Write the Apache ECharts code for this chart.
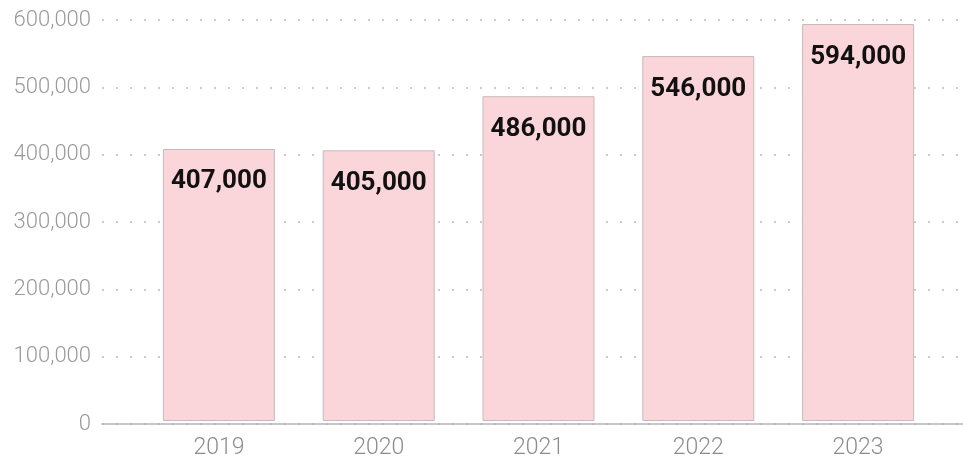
<!DOCTYPE html>
<html>
<head>
<meta charset="utf-8">
<script src="https://cdn.jsdelivr.net/npm/echarts@6/dist/echarts.min.js"></script>
<style>
  html, body { margin: 0; padding: 0; background: #fff; }
  #chart { width: 963px; height: 460px; }
</style>
</head>
<body>
<div id="chart"></div>
<script>
// Yearly totals
const years = ['2019', '2020', '2021', '2022', '2023'];
const totals = [407000, 405000, 486000, 546000, 594000];
const yMax = 600000;
const yStep = 100000;

const fmt = v => v.toLocaleString('en-US');
const chart = echarts.init(document.getElementById('chart'));

chart.setOption({
  animation: false,
  grid: [
    // bars
    { left: 139, right: 25, top: 20, bottom: 36 },
    // full-width backdrop: dotted gridlines, y labels, baseline
    { left: 102, right: 0, top: 20, bottom: 36 }
  ],
  xAxis: [
    {
      type: 'category', gridIndex: 0, data: years,
      axisLine: { show: false }, axisTick: { show: false },
      axisLabel: { color: '#8c8c8c', fontFamily: 'Roboto', fontWeight: 300, fontSize: 23, margin: 16 }
    },
    {
      type: 'value', gridIndex: 1, min: 0, max: 1,
      axisLine: { show: true, lineStyle: { color: '#b5b5b5', width: 1.5 } },
      axisTick: { show: false }, axisLabel: { show: false }, splitLine: { show: false }
    }
  ],
  yAxis: [
    {
      type: 'value', gridIndex: 0, min: 0, max: yMax, interval: yStep,
      axisLine: { show: false }, axisTick: { show: false },
      axisLabel: { show: false }, splitLine: { show: false }
    },
    {
      type: 'value', gridIndex: 1, min: 0, max: yMax, interval: yStep,
      axisLine: { show: false }, axisTick: { show: false },
      axisLabel: {
        color: '#9a9a9a', fontFamily: 'Roboto', fontWeight: 300, fontSize: 22, margin: 11,
        formatter: v => fmt(v)
      },
      splitLine: { show: true, lineStyle: { color: '#cacaca', width: 2, type: [2, 12] } }
    }
  ],
  series: [{
    type: 'bar', xAxisIndex: 0, yAxisIndex: 0,
    data: totals, barWidth: 112,
    itemStyle: { color: '#fad5da', borderColor: '#c9b9bb', borderWidth: 1 },
    label: {
      show: true, position: 'insideTop', distance: 20,
      color: '#111', fontFamily: 'Roboto', fontWeight: 'bold', fontSize: 26,
      formatter: p => fmt(p.value)
    }
  }]
});
</script>
</body>
</html>
